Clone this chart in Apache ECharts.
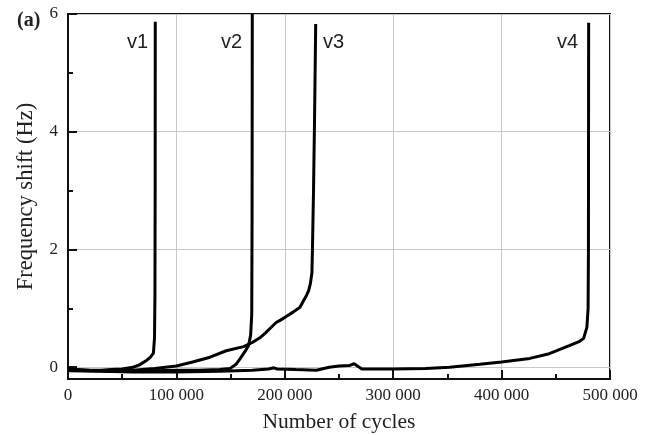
<!DOCTYPE html>
<html>
<head>
    <meta charset="utf-8"/>
    <title>Frequency shift vs number of cycles</title>
    <script type="text/javascript" src="https://cdn.jsdelivr.net/npm/echarts@6.0.0/dist/echarts.min.js"></script>
    <style>
        html, body {margin: 0; padding: 0; background: #fff;}
        #main {width: 646px; height: 435px;}
    </style>
</head>
<body>
<div id="main"></div>
<script type="text/javascript">
    // 数据: [循环次数, 频移 Hz]
    var v1 = [[0,-0.02],[5000,-0.04],[10000,-0.05],[20000,-0.05],[30000,-0.05],[40000,-0.04],[50000,-0.03],
        [60000,0.0],[66000,0.04],[72700,0.12],[76000,0.17],[78800,0.24],[79800,0.5],[80200,1.2],[80400,3.0],[80500,5.87]];
    var v2 = [[0,-0.04],[20000,-0.06],[50000,-0.07],[80000,-0.06],[100000,-0.05],[120000,-0.05],[140000,-0.04],
        [149700,-0.02],[155000,0.05],[159000,0.15],[163000,0.26],[166600,0.37],[168500,0.55],[169500,0.9],
        [169800,2.5],[170000,6.0]];
    var v3 = [[0,-0.03],[20000,-0.05],[40000,-0.06],[60000,-0.05],[80000,-0.02],[100000,0.02],[115000,0.09],
        [131000,0.17],[146000,0.28],[162000,0.35],[170000,0.42],[177000,0.5],[182000,0.58],[187000,0.67],
        [192000,0.76],[196000,0.8],[202000,0.87],[208000,0.94],[214000,1.02],[217000,1.12],[220000,1.22],
        [222000,1.3],[223600,1.42],[225000,1.6],[225500,2.0],[226500,3.0],[227500,4.3],[228500,5.83]];
    var v4 = [[0,-0.06],[30000,-0.07],[60000,-0.08],[100000,-0.08],[140000,-0.07],[170000,-0.05],[185000,-0.03],
        [190000,-0.01],[193000,-0.03],[210000,-0.04],[229000,-0.05],[241000,0.0],[250000,0.02],[260000,0.03],
        [264000,0.06],[268000,0.01],[271000,-0.03],[300000,-0.03],[330000,-0.02],[352000,0.0],[380000,0.05],
        [400000,0.09],[426000,0.15],[444000,0.23],[463000,0.37],[472000,0.44],[475700,0.49],[478700,0.68],
        [479800,1.0],[480100,2.0],[480200,4.0],[480300,5.85]];
    var seriesNames = ['v1', 'v2', 'v3', 'v4'];
    var yMajorTicks = [0, 2, 4, 6];
    var yMinorTicks = [1, 3, 5];

    var serif = '"Liberation Serif", "Times New Roman", serif';
    var sans = '"Liberation Sans", Arial, sans-serif';

    function fmtCycles(v) {
        // 100000 -> "100 000"
        if (v === 0) return '0';
        return String(v).replace(/\B(?=(\d{3})+(?!\d))/g, ' ');
    }

    function lineSeries(name, data) {
        return {
            name: name,
            type: 'line',
            data: data,
            showSymbol: false,
            smooth: false,
            animation: false,
            lineStyle: {color: '#000', width: 3},
            z: 5
        };
    }

    var myChart = echarts.init(document.getElementById('main'));
    var option = {
        backgroundColor: '#fff',
        animation: false,
        grid: {
            left: 68, right: 36, top: 14, bottom: 56,
            outerBoundsMode: 'none',
            containLabel: false,
            show: true,
            borderColor: '#111',
            borderWidth: 2
        },
        xAxis: {
            type: 'value',
            min: 0,
            max: 500000,
            interval: 100000,
            name: 'Number of cycles',
            nameLocation: 'middle',
            nameGap: 32,
            nameTextStyle: {fontFamily: serif, fontSize: 21.5, color: '#222'},
            axisLine: {show: true, onZero: false, lineStyle: {color: '#111', width: 2}},
            axisTick: {show: true, inside: true, length: 9, lineStyle: {color: '#111', width: 2}},
            minorTick: {show: true, splitNumber: 2, length: 5, lineStyle: {color: '#111', width: 2}},
            splitLine: {show: true, lineStyle: {color: '#c8c8c8', width: 1}},
            axisLabel: {
                fontFamily: serif, fontSize: 17, color: '#222', margin: 8,
                formatter: fmtCycles
            }
        },
        yAxis: [
            {
                type: 'value',
                min: -0.2,
                max: 6,
                name: 'Frequency shift (Hz)',
                nameLocation: 'middle',
                nameGap: 30,
                nameTextStyle: {fontFamily: serif, fontSize: 22.5, color: '#222'},
                axisLine: {show: true, onZero: false, lineStyle: {color: '#111', width: 2}},
                axisTick: {show: true, inside: true, length: 9, customValues: yMajorTicks,
                    lineStyle: {color: '#111', width: 2}},
                splitLine: {show: true, lineStyle: {color: '#c8c8c8', width: 1}},
                axisLabel: {fontFamily: serif, fontSize: 17, color: '#222', margin: 10,
                    customValues: yMajorTicks}
            },
            {
                // 次刻度
                type: 'value',
                min: -0.2,
                max: 6,
                position: 'left',
                axisLine: {show: false, onZero: false},
                axisTick: {show: true, inside: true, length: 5, customValues: yMinorTicks,
                    lineStyle: {color: '#111', width: 2}},
                splitLine: {show: false},
                axisLabel: {show: false}
            }
        ],
        graphic: [
            {type: 'text', left: 17, top: 11,
                style: {text: '(a)', font: 'bold 20px ' + serif, fill: '#222'}},
            {type: 'text', x: 148, y: 42,
                style: {text: seriesNames[0], font: '20px ' + sans, fill: '#222', align: 'right', verticalAlign: 'middle'}},
            {type: 'text', x: 242, y: 42,
                style: {text: seriesNames[1], font: '20px ' + sans, fill: '#222', align: 'right', verticalAlign: 'middle'}},
            {type: 'text', x: 323, y: 42,
                style: {text: seriesNames[2], font: '20px ' + sans, fill: '#222', align: 'left', verticalAlign: 'middle'}},
            {type: 'text', x: 578, y: 42,
                style: {text: seriesNames[3], font: '20px ' + sans, fill: '#222', align: 'right', verticalAlign: 'middle'}}
        ],
        series: [
            lineSeries(seriesNames[0], v1),
            lineSeries(seriesNames[1], v2),
            lineSeries(seriesNames[2], v3),
            lineSeries(seriesNames[3], v4)
        ]
    };
    myChart.setOption(option);
</script>
</body>
</html>
